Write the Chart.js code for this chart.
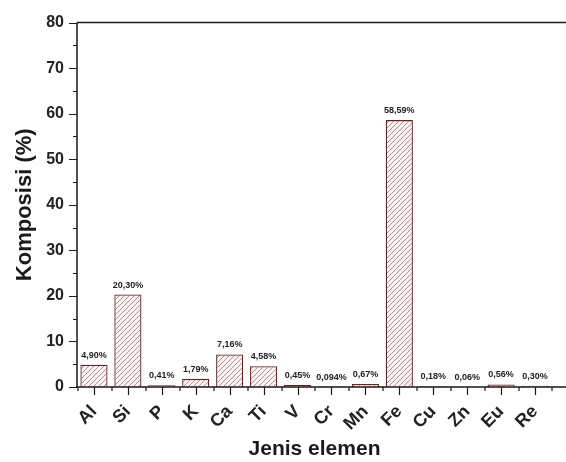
<!DOCTYPE html>
<html>
<head>
<meta charset="utf-8">
<script src="https://cdn.jsdelivr.net/npm/chart.js@4/dist/chart.umd.min.js"></script>
<style>
  html, body { margin: 0; padding: 0; background: #fff; overflow: hidden; }
  #wrap { width: 566px; height: 462px; }
</style>
</head>
<body>
<div id="wrap"><canvas id="komposisi" width="566" height="462"></canvas></div>
<script>
const elements = ['Al', 'Si', 'P', 'K', 'Ca', 'Ti', 'V', 'Cr', 'Mn', 'Fe', 'Cu', 'Zn', 'Eu', 'Re'];
const komposisi = [4.90, 20.30, 0.41, 1.79, 7.16, 4.58, 0.45, 0.094, 0.67, 58.59, 0.18, 0.06, 0.56, 0.30];
const labelText = ['4,90%', '20,30%', '0,41%', '1,79%', '7,16%', '4,58%', '0,45%', '0,094%', '0,67%', '58,59%', '0,18%', '0,06%', '0,56%', '0,30%'];
const yTicks = [0, 10, 20, 30, 40, 50, 60, 70, 80];

const AXIS = '#1a1a1a';
const FONT = '"Liberation Sans", Arial, sans-serif';

// diagonal hatch fill for the bars
function hatch() {
  const c = document.createElement('canvas');
  c.width = 5; c.height = 5;
  const g = c.getContext('2d');
  g.fillStyle = '#fbf3f3';
  g.fillRect(0, 0, 5, 5);
  g.strokeStyle = '#b08f8f';
  g.lineWidth = 1;
  g.beginPath();
  g.moveTo(-1, 6); g.lineTo(6, -1);
  g.moveTo(-1, 1); g.lineTo(1, -1);
  g.moveTo(4, 6); g.lineTo(6, 4);
  g.stroke();
  return g.createPattern(c, 'repeat');
}

// axis lines, tick marks and value labels
const axesPlugin = {
  id: 'axes',
  afterDatasetsDraw(chart) {
    const { ctx, chartArea: a, scales: { x, y } } = chart;
    const W = chart.width;
    ctx.save();
    ctx.strokeStyle = AXIS;
    ctx.lineWidth = 1.5;
    ctx.beginPath();
    ctx.moveTo(a.left, a.top); ctx.lineTo(W, a.top);
    ctx.moveTo(a.left, a.top); ctx.lineTo(a.left, a.bottom);
    ctx.moveTo(a.left - 1, a.bottom); ctx.lineTo(W, a.bottom);
    ctx.stroke();

    ctx.lineWidth = 1.2;
    ctx.beginPath();
    for (let v = 0; v <= 80; v += 5) {
      const py = Math.round(y.getPixelForValue(v)) + 0.5;
      const len = v % 10 === 0 ? 8 : 4;
      ctx.moveTo(a.left, py); ctx.lineTo(a.left - len, py);
    }
    const step = x.getPixelForValue(1) - x.getPixelForValue(0);
    elements.forEach((e, i) => {
      const px = Math.round(x.getPixelForValue(i)) + 0.5;
      ctx.moveTo(px, a.bottom); ctx.lineTo(px, a.bottom + 8);
      const bx = Math.round(px - step / 2);
      ctx.moveTo(bx, a.bottom); ctx.lineTo(bx, a.bottom + 4);
    });
    const lastB = Math.round(x.getPixelForValue(elements.length - 1) + step / 2);
    ctx.moveTo(lastB, a.bottom); ctx.lineTo(lastB, a.bottom + 4);
    ctx.stroke();

    ctx.fillStyle = '#222';
    ctx.font = 'bold 9px ' + FONT;
    ctx.textAlign = 'center';
    ctx.textBaseline = 'bottom';
    const meta = chart.getDatasetMeta(0);
    meta.data.forEach((bar, i) => {
      ctx.fillText(labelText[i], bar.x, bar.y - 5);
    });
    ctx.restore();
  }
};

const ctx = document.getElementById('komposisi').getContext('2d');
const chart = new Chart(ctx, {
  type: 'bar',
  data: {
    labels: elements,
    datasets: [{
      data: komposisi,
      backgroundColor: hatch(),
      borderColor: '#5e2626',
      borderWidth: 1.3,
      categoryPercentage: 1,
      barPercentage: 0.8
    }]
  },
  options: {
    responsive: false,
    animation: false,
    layout: { padding: { top: 22, right: 14, left: 0, bottom: 0 } },
    plugins: { legend: { display: false }, tooltip: { enabled: false } },
    scales: {
      x: {
        grid: { display: false, drawTicks: false },
        border: { display: false },
        ticks: {
          color: '#222',
          font: { family: FONT, size: 18, weight: 'bold' },
          minRotation: 45,
          maxRotation: 45,
          autoSkip: false,
          padding: 14
        },
        title: {
          display: true,
          text: 'Jenis elemen',
          color: '#1a1a1a',
          font: { family: FONT, size: 21, weight: 'bold' },
          padding: { top: 0, bottom: 0 }
        },
        afterFit(s) { s.height = 75; }
      },
      y: {
        min: 0,
        max: 80,
        grid: { display: false, drawTicks: false },
        border: { display: false },
        afterBuildTicks(s) { s.ticks = yTicks.map(v => ({ value: v })); },
        ticks: {
          color: '#222',
          font: { family: FONT, size: 16, weight: 'bold' },
          padding: 13
        },
        title: {
          display: true,
          text: 'Komposisi (%)',
          color: '#1a1a1a',
          font: { family: FONT, size: 22, weight: 'bold' },
          padding: { top: 12, bottom: 0 }
        },
        afterFit(s) { s.width = 77; }
      }
    }
  },
  plugins: [axesPlugin]
});
</script>
</body>
</html>
